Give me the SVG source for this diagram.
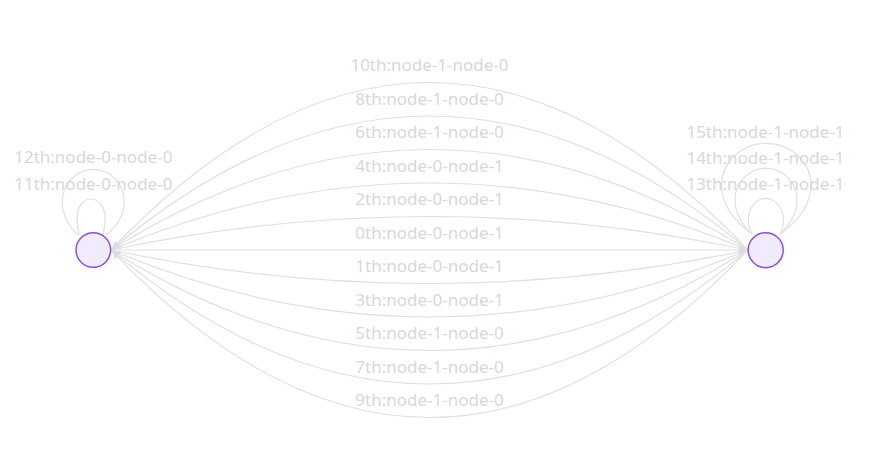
<svg xmlns="http://www.w3.org/2000/svg" width="889" height="462" viewBox="0 0 889 462">
<style>
.edge{fill:none;stroke:#e0e0e0;stroke-width:1.2}
.arr{marker-end:url(#arrow)}
.lbl{font-family:"Noto Sans","Liberation Sans",sans-serif;font-size:17px;fill:#d8d8d8;text-anchor:middle}
.node{fill:#f0ecfe;stroke:#8b4cf6;stroke-width:1.5}
</style>
<defs>
<marker id="arrow" markerUnits="userSpaceOnUse" markerWidth="12" markerHeight="12" refX="0" refY="0" orient="auto" overflow="visible">
<path d="M0,0 L-10,-3.4 L-7.5,0 L-10,3.4 Z" fill="#dcdcdc"/>
</marker>
</defs>
<rect width="889" height="462" fill="#ffffff"/>
<g id="edges">
<path class="edge arr" d="M111,250 L748,250"/>
<path class="edge arr" d="M111,250 Q429.5,317 748,250"/>
<path class="edge arr" d="M111,250 Q429.5,183 748,250"/>
<path class="edge arr" d="M111,250 Q429.5,384 748,250"/>
<path class="edge arr" d="M111,250 Q429.5,116 748,250"/>
<path class="edge arr" d="M748,250 Q429.5,451 111,250"/>
<path class="edge arr" d="M748,250 Q429.5,49 111,250"/>
<path class="edge arr" d="M748,250 Q429.5,518 111,250"/>
<path class="edge arr" d="M748,250 Q429.5,-18 111,250"/>
<path class="edge arr" d="M748,250 Q429.5,585 111,250"/>
<path class="edge arr" d="M748,250 Q429.5,-85 111,250"/>
<path class="edge" d="M79,235 Q77,227 77,217 A14,18 0 0 1 105,217 Q105,227 103,235"/>
<path class="edge" d="M78,235 Q62.3,220 62.3,201.7 A31,32.4 0 0 1 124.3,201.7 Q124.3,220 106,235"/>
<path class="edge" d="M752.3,234 Q748.3,228 748.3,220 A17.5,21.7 0 0 1 783.3,220 Q783.3,228 780,234"/>
<path class="edge" d="M752,234 Q735,218 735,200 A31,31.7 0 0 1 797,200 Q797,218 780,234"/>
<path class="edge" d="M752,234 Q721.6,212 721.6,185 A44.7,41.7 0 0 1 811,185 Q811,212 780,234"/>
</g>
<g id="edge-labels">
<text class="lbl" x="429.5" y="238.5">0th:node-0-node-1</text>
<text class="lbl" x="429.5" y="272">1th:node-0-node-1</text>
<text class="lbl" x="429.5" y="205">2th:node-0-node-1</text>
<text class="lbl" x="429.5" y="305.5">3th:node-0-node-1</text>
<text class="lbl" x="429.5" y="171.5">4th:node-0-node-1</text>
<text class="lbl" x="429.5" y="339">5th:node-1-node-0</text>
<text class="lbl" x="429.5" y="138">6th:node-1-node-0</text>
<text class="lbl" x="429.5" y="372.5">7th:node-1-node-0</text>
<text class="lbl" x="429.5" y="104.5">8th:node-1-node-0</text>
<text class="lbl" x="429.5" y="406">9th:node-1-node-0</text>
<text class="lbl" x="429.5" y="71">10th:node-1-node-0</text>
<text class="lbl" x="93.3" y="190.3">11th:node-0-node-0</text>
<text class="lbl" x="93.3" y="163.3">12th:node-0-node-0</text>
<text class="lbl" x="765.5" y="190">13th:node-1-node-1</text>
<text class="lbl" x="765.5" y="164">14th:node-1-node-1</text>
<text class="lbl" x="765.5" y="137.5">15th:node-1-node-1</text>
</g>
<g id="node-0"><circle class="node" cx="93.3" cy="250" r="17.3"/></g>
<g id="node-1"><circle class="node" cx="765.7" cy="250.2" r="17.5"/></g>
</svg>
